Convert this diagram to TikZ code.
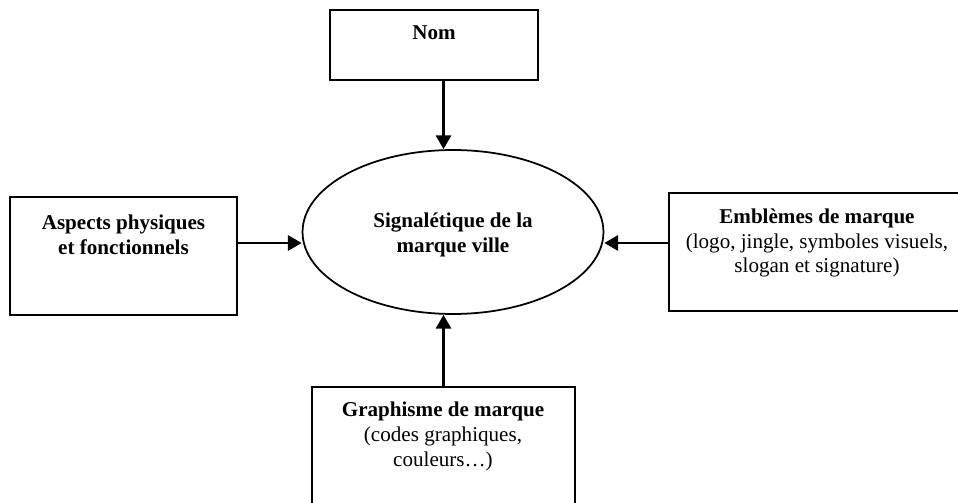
\documentclass[tikz,border=0pt]{standalone}
\usepackage{fontspec}
\setmainfont{Liberation Serif}
\usepackage{tikz}
\usetikzlibrary{arrows.meta}
\usetikzlibrary{shapes.geometric,positioning}

\begin{document}
\begin{tikzpicture}[x=0.02cm,y=-0.02cm]
  \tikzset{box/.style = {shape=rectangle,draw,line width=1pt,inner sep=0pt}}
  \tikzset{oval/.style = {shape=ellipse,draw,line width=1pt,inner sep=0pt,minimum width=6.02cm,minimum height=3.28cm}}
  \tikzset{lbl/.style = {align=center,inner sep=0pt,font=\fontsize{12}{14.2}\selectfont}}
  \tikzset{%
  tipA/.tip={Triangle[length=7.8pt,width=8.6pt]},
  }
  \tikzset{edge/.style = {-tipA,line width=1.4pt}}
  \useasboundingbox (0,0) rectangle (958,503);
  \clip (0,0) rectangle (958,503);
	\node[box,minimum width=4.16cm,minimum height=1.4cm] (nom) at (434,45) {};
	\node[box,minimum width=4.54cm,minimum height=2.36cm] (aspects) at (123.5,256) {};
	\node[box,minimum width=5.92cm,minimum height=2.36cm] (emblemes) at (817,252) {};
	\node[box,minimum width=5.26cm,minimum height=2.36cm] (graphisme) at (443.5,446) {};
	\node[oval] (sig) at (453,232) {};

	\node[lbl] (nomtxt) at (434,33) {\textbf{Nom}};
	\node[lbl] (aspectstxt) at (123.5,234.5) {\textbf{Aspects physiques}\\\textbf{et fonctionnels}};
	\node[lbl] (emblemestxt) at (817,243) {\textbf{Emblèmes de marque}\\(logo, jingle, symboles visuels,\\slogan et signature)};
	\node[lbl] (graphismetxt) at (443,436.5) {\textbf{Graphisme de marque}\\(codes graphiques,\\couleurs…)};
	\node[lbl] (sigtxt) at (453,235) {\textbf{Signalétique de la}\\\textbf{marque ville}};

    \draw[edge] (nom.south -| graphisme.north) -- (graphisme.north |- sig.north);
    \draw[edge] (graphisme.north) -- (graphisme.north |- sig.south);
    \draw[edge] ([yshift=0.26cm]aspects.east) -- ([yshift=0.26cm]aspects.east -| sig.west);
    \draw[edge] ([yshift=0.18cm]emblemes.west) -- ([yshift=0.18cm]emblemes.west -| sig.east);

\end{tikzpicture}
\end{document}
